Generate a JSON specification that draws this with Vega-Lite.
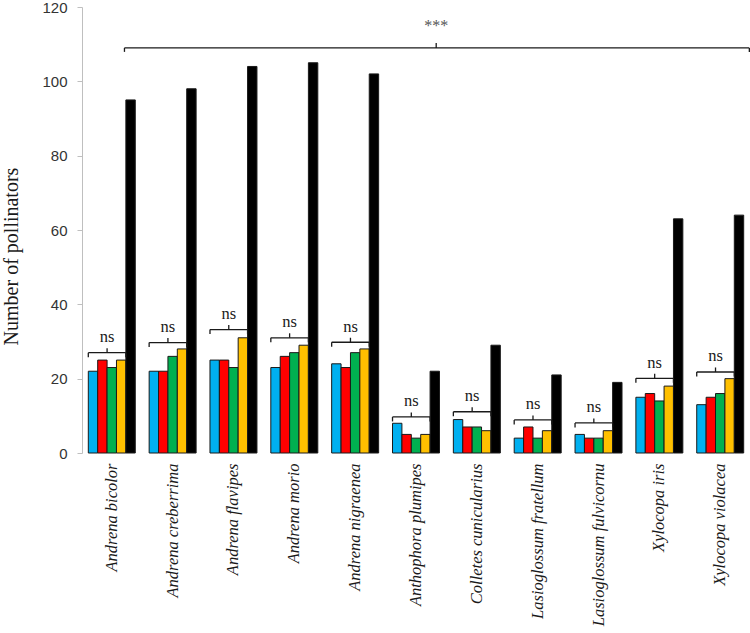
{
  "$schema": "https://vega.github.io/schema/vega-lite/v6.json",
  "autosize": {"type": "none"},
  "padding": {"left": 82, "top": 7, "right": 0, "bottom": 180},
  "width": 668,
  "height": 446,
  "background": "white",
  "config": {"view": {"stroke": null}, "font": "Liberation Serif"},
  "datasets": {
    "counts": [
      {"species": "Andrena bicolor", "group": "Group 1", "count": 22},
      {"species": "Andrena bicolor", "group": "Group 2", "count": 25},
      {"species": "Andrena bicolor", "group": "Group 3", "count": 23},
      {"species": "Andrena bicolor", "group": "Group 4", "count": 25},
      {"species": "Andrena bicolor", "group": "Total", "count": 95},
      {"species": "Andrena creberrima", "group": "Group 1", "count": 22},
      {"species": "Andrena creberrima", "group": "Group 2", "count": 22},
      {"species": "Andrena creberrima", "group": "Group 3", "count": 26},
      {"species": "Andrena creberrima", "group": "Group 4", "count": 28},
      {"species": "Andrena creberrima", "group": "Total", "count": 98},
      {"species": "Andrena flavipes", "group": "Group 1", "count": 25},
      {"species": "Andrena flavipes", "group": "Group 2", "count": 25},
      {"species": "Andrena flavipes", "group": "Group 3", "count": 23},
      {"species": "Andrena flavipes", "group": "Group 4", "count": 31},
      {"species": "Andrena flavipes", "group": "Total", "count": 104},
      {"species": "Andrena morio", "group": "Group 1", "count": 23},
      {"species": "Andrena morio", "group": "Group 2", "count": 26},
      {"species": "Andrena morio", "group": "Group 3", "count": 27},
      {"species": "Andrena morio", "group": "Group 4", "count": 29},
      {"species": "Andrena morio", "group": "Total", "count": 105},
      {"species": "Andrena nigraenea", "group": "Group 1", "count": 24},
      {"species": "Andrena nigraenea", "group": "Group 2", "count": 23},
      {"species": "Andrena nigraenea", "group": "Group 3", "count": 27},
      {"species": "Andrena nigraenea", "group": "Group 4", "count": 28},
      {"species": "Andrena nigraenea", "group": "Total", "count": 102},
      {"species": "Anthophora plumipes", "group": "Group 1", "count": 8},
      {"species": "Anthophora plumipes", "group": "Group 2", "count": 5},
      {"species": "Anthophora plumipes", "group": "Group 3", "count": 4},
      {"species": "Anthophora plumipes", "group": "Group 4", "count": 5},
      {"species": "Anthophora plumipes", "group": "Total", "count": 22},
      {"species": "Colletes cunicularius", "group": "Group 1", "count": 9},
      {"species": "Colletes cunicularius", "group": "Group 2", "count": 7},
      {"species": "Colletes cunicularius", "group": "Group 3", "count": 7},
      {"species": "Colletes cunicularius", "group": "Group 4", "count": 6},
      {"species": "Colletes cunicularius", "group": "Total", "count": 29},
      {"species": "Lasioglossum fratellum", "group": "Group 1", "count": 4},
      {"species": "Lasioglossum fratellum", "group": "Group 2", "count": 7},
      {"species": "Lasioglossum fratellum", "group": "Group 3", "count": 4},
      {"species": "Lasioglossum fratellum", "group": "Group 4", "count": 6},
      {"species": "Lasioglossum fratellum", "group": "Total", "count": 21},
      {"species": "Lasioglossum fulvicornu", "group": "Group 1", "count": 5},
      {"species": "Lasioglossum fulvicornu", "group": "Group 2", "count": 4},
      {"species": "Lasioglossum fulvicornu", "group": "Group 3", "count": 4},
      {"species": "Lasioglossum fulvicornu", "group": "Group 4", "count": 6},
      {"species": "Lasioglossum fulvicornu", "group": "Total", "count": 19},
      {"species": "Xylocopa iris", "group": "Group 1", "count": 15},
      {"species": "Xylocopa iris", "group": "Group 2", "count": 16},
      {"species": "Xylocopa iris", "group": "Group 3", "count": 14},
      {"species": "Xylocopa iris", "group": "Group 4", "count": 18},
      {"species": "Xylocopa iris", "group": "Total", "count": 63},
      {"species": "Xylocopa violacea", "group": "Group 1", "count": 13},
      {"species": "Xylocopa violacea", "group": "Group 2", "count": 15},
      {"species": "Xylocopa violacea", "group": "Group 3", "count": 16},
      {"species": "Xylocopa violacea", "group": "Group 4", "count": 20},
      {"species": "Xylocopa violacea", "group": "Total", "count": 64}
    ],
    "brackets": [
      {"species": "Andrena bicolor", "level": 27, "sig": "ns"},
      {"species": "Andrena creberrima", "level": 29.7, "sig": "ns"},
      {"species": "Andrena flavipes", "level": 33.2, "sig": "ns"},
      {"species": "Andrena morio", "level": 31, "sig": "ns"},
      {"species": "Andrena nigraenea", "level": 29.8, "sig": "ns"},
      {"species": "Anthophora plumipes", "level": 9.7, "sig": "ns"},
      {"species": "Colletes cunicularius", "level": 11.1, "sig": "ns"},
      {"species": "Lasioglossum fratellum", "level": 8.9, "sig": "ns"},
      {"species": "Lasioglossum fulvicornu", "level": 8.1, "sig": "ns"},
      {"species": "Xylocopa iris", "level": 20.1, "sig": "ns"},
      {"species": "Xylocopa violacea", "level": 21.8, "sig": "ns"}
    ],
    "overall": [
      {"from": "Andrena bicolor", "to": "Xylocopa violacea", "mid": "Anthophora plumipes", "level": 109, "sig": "***"}
    ]
  },
  "layer": [
    {
      "data": {"name": "counts"},
      "mark": {"type": "bar", "stroke": "#1a1a1a", "strokeWidth": 1},
      "encoding": {
        "x": {
          "field": "species", "type": "nominal",
          "scale": {
            "domain": ["Andrena bicolor", "Andrena creberrima", "Andrena flavipes", "Andrena morio", "Andrena nigraenea", "Anthophora plumipes", "Colletes cunicularius", "Lasioglossum fratellum", "Lasioglossum fulvicornu", "Xylocopa iris", "Xylocopa violacea"],
            "paddingInner": 0.228, "paddingOuter": 0.1035
          },
          "axis": {
            "title": null, "domain": false, "ticks": false, "labelAngle": -90,
            "labelFont": "Liberation Serif", "labelFontStyle": "italic", "labelFontSize": 16.5,
            "labelColor": "#1a1a1a", "labelPadding": 10, "labelLimit": 0
          }
        },
        "xOffset": {
          "field": "group", "type": "nominal",
          "scale": {"domain": ["Group 1", "Group 2", "Group 3", "Group 4", "Total"], "paddingInner": 0, "paddingOuter": 0}
        },
        "y": {
          "field": "count", "type": "quantitative",
          "scale": {"domain": [0, 120], "nice": false},
          "axis": {
            "title": "Number of pollinators", "values": [0, 20, 40, 60, 80, 100, 120], "grid": false,
            "domainColor": "#bfbfbf", "tickColor": "#bfbfbf", "tickSize": 5,
            "labelFont": "Liberation Sans", "labelFontSize": 15, "labelColor": "#333333", "labelPadding": 10,
            "titleFont": "Liberation Serif", "titleFontSize": 20, "titleFontWeight": "normal", "titleColor": "#1a1a1a",
            "titleX": -71, "titleY": 249, "titleAlign": "center", "titleBaseline": "middle", "titleAngle": -90
          }
        },
        "color": {
          "field": "group", "type": "nominal",
          "scale": {"domain": ["Group 1", "Group 2", "Group 3", "Group 4", "Total"], "range": ["#00B0F0", "#FF0000", "#00B050", "#FFC000", "#000000"]},
          "legend": null
        }
      }
    },
    {
      "data": {"name": "brackets"},
      "mark": {"type": "rule", "color": "#1a1a1a", "strokeWidth": 1.3},
      "encoding": {
        "x": {"field": "species", "type": "nominal", "bandPosition": 0, "title": null},
        "x2": {"field": "species", "bandPosition": 0.8},
        "y": {"field": "level", "type": "quantitative", "title": "Number of pollinators"}
      }
    },
    {
      "data": {"name": "brackets"},
      "mark": {"type": "rule", "color": "#1a1a1a", "strokeWidth": 1.3, "y2Offset": 4.5},
      "encoding": {
        "x": {"field": "species", "type": "nominal", "bandPosition": 0, "title": null},
        "y": {"field": "level", "type": "quantitative", "title": "Number of pollinators"},
        "y2": {"field": "level"}
      }
    },
    {
      "data": {"name": "brackets"},
      "mark": {"type": "rule", "color": "#1a1a1a", "strokeWidth": 1.3, "y2Offset": 4.5},
      "encoding": {
        "x": {"field": "species", "type": "nominal", "bandPosition": 0.8, "title": null},
        "y": {"field": "level", "type": "quantitative", "title": "Number of pollinators"},
        "y2": {"field": "level"}
      }
    },
    {
      "data": {"name": "brackets"},
      "mark": {"type": "rule", "color": "#1a1a1a", "strokeWidth": 1.3, "y2Offset": -4.5},
      "encoding": {
        "x": {"field": "species", "type": "nominal", "bandPosition": 0.4, "title": null},
        "y": {"field": "level", "type": "quantitative", "title": "Number of pollinators"},
        "y2": {"field": "level"}
      }
    },
    {
      "data": {"name": "brackets"},
      "mark": {"type": "text", "font": "Liberation Serif", "fontSize": 16.5, "color": "#1a1a1a", "baseline": "alphabetic", "dy": -10.5},
      "encoding": {
        "x": {"field": "species", "type": "nominal", "bandPosition": 0.4, "title": null},
        "y": {"field": "level", "type": "quantitative", "title": "Number of pollinators"},
        "text": {"field": "sig"}
      }
    },
    {
      "data": {"name": "overall"},
      "mark": {"type": "rule", "color": "#1a1a1a", "strokeWidth": 1.3},
      "encoding": {
        "x": {"field": "from", "type": "nominal", "bandPosition": 0.77, "title": null},
        "x2": {"field": "to", "bandPosition": 1.12},
        "y": {"field": "level", "type": "quantitative", "title": "Number of pollinators"}
      }
    },
    {
      "data": {"name": "overall"},
      "mark": {"type": "rule", "color": "#1a1a1a", "strokeWidth": 1.3, "y2Offset": 4},
      "encoding": {
        "x": {"field": "from", "type": "nominal", "bandPosition": 0.77, "title": null},
        "y": {"field": "level", "type": "quantitative", "title": "Number of pollinators"},
        "y2": {"field": "level"}
      }
    },
    {
      "data": {"name": "overall"},
      "mark": {"type": "rule", "color": "#1a1a1a", "strokeWidth": 1.3, "y2Offset": 4},
      "encoding": {
        "x": {"field": "to", "type": "nominal", "bandPosition": 1.12, "title": null},
        "y": {"field": "level", "type": "quantitative", "title": "Number of pollinators"},
        "y2": {"field": "level"}
      }
    },
    {
      "data": {"name": "overall"},
      "mark": {"type": "rule", "color": "#1a1a1a", "strokeWidth": 1.3, "y2Offset": -5},
      "encoding": {
        "x": {"field": "mid", "type": "nominal", "bandPosition": 0.93, "title": null},
        "y": {"field": "level", "type": "quantitative", "title": "Number of pollinators"},
        "y2": {"field": "level"}
      }
    },
    {
      "data": {"name": "overall"},
      "mark": {"type": "text", "font": "Liberation Serif", "fontSize": 16, "color": "#555555", "baseline": "alphabetic", "dy": -17},
      "encoding": {
        "x": {"field": "mid", "type": "nominal", "bandPosition": 0.93, "title": null},
        "y": {"field": "level", "type": "quantitative", "title": "Number of pollinators"},
        "text": {"field": "sig"}
      }
    }
  ]
}
